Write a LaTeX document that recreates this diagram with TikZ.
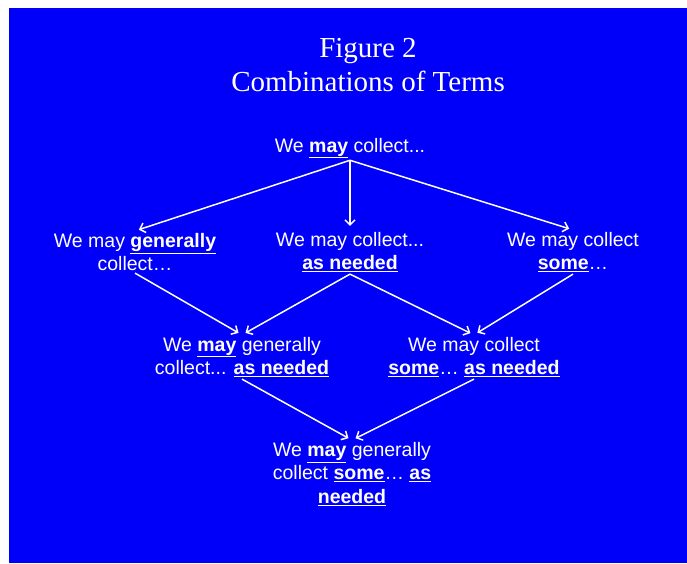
\documentclass[tikz,border=0pt]{standalone}
\usepackage{fontspec}
\setmainfont{Liberation Sans}
\newfontfamily\titlefont{Liberation Serif}
\usepackage{tikz}
\usetikzlibrary{arrows.meta}
\definecolor{slideblue}{RGB}{0,0,250}
\newcommand{\ulb}[1]{\underline{\textbf{#1}}}

\begin{document}
\begin{tikzpicture}[x=1pt, y=-1pt,
  term/.style={text=white, align=center, inner sep=2pt,
               font=\fontsize{19.5}{23.5}\selectfont},
  ttl/.style={text=white, align=center, font=\titlefont\fontsize{29}{34}\selectfont},
  ar/.style={-{Straight Barb[length=5pt,width=10pt]}, white, line width=1.5pt,
             shorten >=4pt}
]
\fill[white] (0,0) rectangle (687,563);
\fill[slideblue] (9,8) rectangle (687,563);

\node[ttl] (title) at (368,65) {Figure 2\\Combinations of Terms};

\node[term] (may)    at (350,148) {We \ulb{may} collect...};
\node[term] (gen)    at (135,252) {We may \ulb{generally}\\collect…};
\node[term] (need)   at (350,252) {We may collect...\\\ulb{as needed}};
\node[term] (some)   at (573,252) {We may collect\\\ulb{some}…};
\node[term] (genned) at (242,357) {We \ulb{may} generally\\collect... \ulb{as needed}};
\node[term] (somned) at (474,357) {We may collect\\\ulb{some}… \ulb{as needed}};
\node[term] (all)    at (352,474) {We \ulb{may} generally\\collect \ulb{some}… \ulb{as}\\\ulb{needed}};

\draw[ar] (may.south) -- (gen.north);
\draw[ar] (may.south) -- (need.north);
\draw[ar] (may.south) -- (some.north);
\draw[ar] (gen.south) -- (genned.north);
\draw[ar] (need.south) -- (genned.north);
\draw[ar] (need.south) -- (somned.north);
\draw[ar] (some.south) -- (somned.north);
\draw[ar] (genned.south) -- (all.north);
\draw[ar] (somned.south) -- (all.north);
\end{tikzpicture}
\end{document}
